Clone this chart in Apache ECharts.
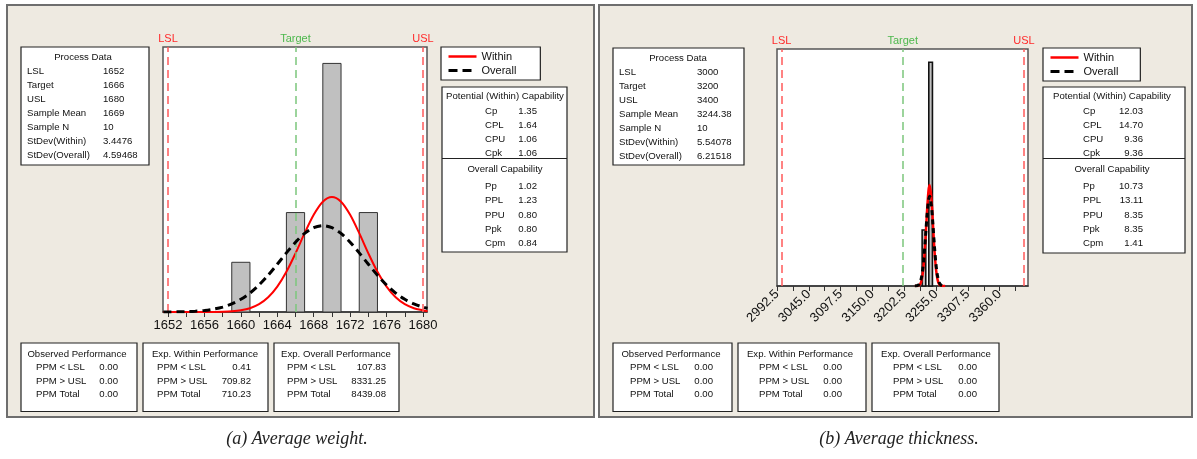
<!DOCTYPE html>
<html><head><meta charset="utf-8">
<script src="https://cdn.jsdelivr.net/npm/echarts@6/dist/echarts.min.js"></script>
<style>html,body{margin:0;padding:0;background:#fff}#c{width:1197px;height:459px}</style>
</head><body><div id="c"></div>
<script>
// ---------- Panel (a): Average weight ----------
const specA = { LSL: 1652, Target: 1666, USL: 1680 };
const binStartA = [1659, 1665, 1669, 1673];
const binEndA   = [1661, 1667, 1671, 1675];
const countsA   = [1, 2, 5, 2];
const curveXA = [1651.5,1652,1653,1654,1655,1656,1657,1658,1659,1660,1661,1662,1663,1664,1665,1666,1667,1668,1669,1670,1671,1672,1673,1674,1675,1676,1677,1678,1679,1680,1680.5];
const withinA = [0,0,0,0,0.0002,0.0006,0.0019,0.0054,0.0143,0.0345,0.0766,0.157,0.295,0.509,0.808,1.180,1.585,1.956,2.219,2.314,2.219,1.956,1.585,1.180,0.808,0.509,0.295,0.157,0.0766,0.0345,0.0143,0.0089];
const overallA = [0.0012,0.0018,0.0040,0.0084,0.0167,0.0317,0.0573,0.0988,0.163,0.255,0.381,0.544,0.740,0.961,1.189,1.403,1.580,1.696,1.737,1.696,1.580,1.403,1.189,0.961,0.740,0.544,0.381,0.255,0.163,0.0988,0.0758];
const tickLabelsA = [1652, 1656, 1660, 1664, 1668, 1672, 1676, 1680];

// ---------- Panel (b): Average thickness ----------
const specB = { LSL: 3000, Target: 3200, USL: 3400 };
const binStartB = [3232, 3243];
const binEndB   = [3238, 3249];
const countsB   = [2, 8];
const curveXB = [3220,3222.5,3225,3227.5,3230,3232.5,3235,3237.5,3240,3242.5,3244.4,3247.5,3250,3252.5,3255,3257.5,3260,3262.5,3265,3267.5,3270];
const withinB = [0.0002,0.0015,0.008,0.035,0.124,0.362,0.861,1.670,2.641,3.408,3.610,3.081,2.159,1.234,0.575,0.219,0.068,0.017,0.0035,0.0006,0.0001];
const overallB = [0.0015,0.0065,0.025,0.080,0.221,0.517,1.028,1.740,2.504,3.066,3.210,2.830,2.133,1.367,0.745,0.346,0.136,0.046,0.013,0.0032,0.0007];
const tickLabelsB = [2992.5, 3045, 3097.5, 3150, 3202.5, 3255, 3307.5, 3360];

// ---------- Tables ----------
const processLabels = ['LSL','Target','USL','Sample Mean','Sample N','StDev(Within)','StDev(Overall)'];
const processA = ['1652','1666','1680','1669','10','3.4476','4.59468'];
const processB = ['3000','3200','3400','3244.38','10','5.54078','6.21518'];
const potLabels = ['Cp','CPL','CPU','Cpk'];
const potA = ['1.35','1.64','1.06','1.06'];
const potB = ['12.03','14.70','9.36','9.36'];
const ovLabels = ['Pp','PPL','PPU','Ppk','Cpm'];
const ovA = ['1.02','1.23','0.80','0.80','0.84'];
const ovB = ['10.73','13.11','8.35','8.35','1.41'];
const perfTitles = ['Observed Performance','Exp. Within Performance','Exp. Overall Performance'];
const perfLabels = ['PPM < LSL','PPM > USL','PPM Total'];
const perfA = [['0.00','0.00','0.00'],['0.41','709.82','710.23'],['107.83','8331.25','8439.08']];
const perfB = [['0.00','0.00','0.00'],['0.00','0.00','0.00'],['0.00','0.00','0.00']];
const captions = ['(a) Average weight.', '(b) Average thickness.'];

const FONT = '"Liberation Sans", Arial, sans-serif';
const BG = '#EEEAE1';

function bars(s, e, c) { return s.map((v, i) => [v, e[i], c[i]]); }
function pts(x, y) { return x.map((v, i) => [v, y[i]]); }

function renderBar(params, api) {
  const p0 = api.coord([api.value(0), api.value(2)]);
  const p1 = api.coord([api.value(1), 0]);
  const b = params.seriesIndex > 3;
  return { type: 'rect', shape: { x: p0[0], y: p0[1], width: p1[0] - p0[0], height: p1[1] - p0[1] },
    style: { fill: '#C0C0C0', stroke: b ? '#111' : '#333', lineWidth: b ? 1.6 : 1 } };
}

function specLines(spec) {
  const red = '#FF5A5A', green = '#7CC67C';
  const mk = (name, col, lcol) => ({ xAxis: spec[name], name: name,
    lineStyle: { color: col, type: [8, 5], width: 1.5 },
    label: { show: true, position: 'end', formatter: name, color: lcol, fontSize: 11, fontFamily: FONT, distance: 3 } });
  return { silent: true, symbol: ['none', 'none'], animation: false,
    data: [mk('LSL', red, '#FF2A2A'), mk('Target', green, '#4DB84D'), mk('USL', red, '#FF2A2A')] };
}

const G = [];
function rect(x, y, w, h, fill, stroke, lw, z) {
  G.push({ type: 'rect', z: z, shape: { x: x, y: y, width: w, height: h }, style: { fill: fill, stroke: stroke, lineWidth: lw } });
}
function line(x1, y1, x2, y2) {
  G.push({ type: 'line', z: 100, shape: { x1: x1, y1: y1, x2: x2, y2: y2 }, style: { stroke: '#222', lineWidth: 1.2 } });
}
function txt(t, x, y, align, opt) {
  opt = opt || {};
  G.push({ type: 'text', z: 101, x: x, y: y, style: { text: t, fill: opt.fill || '#111',
    font: opt.font || ('9.6px ' + FONT), align: align, verticalAlign: 'middle', textAlign: align, textVerticalAlign: 'middle' } });
}

// panels
rect(7, 5, 587, 412, BG, '#6E6E6E', 2, -10);
rect(599, 5, 593, 412, BG, '#6E6E6E', 2, -10);

// process data boxes
function processBox(x, y, w, h, cx, lx, vx, vals) {
  rect(x, y, w, h, '#fff', '#222', 1.2, 99);
  txt('Process Data', cx, y + 10.5, 'center');
  processLabels.forEach((l, i) => { txt(l, lx, y + 24 + i * 14.07, 'left'); txt(vals[i], vx, y + 24 + i * 14.07, 'left'); });
}
processBox(21, 47, 128, 118, 83, 27, 103, processA);
processBox(613, 48, 131, 117, 678, 619, 697, processB);

// capability boxes
function capBox(x, y, w, h, cx, lx, vr, pv, ov) {
  rect(x, y, w, h, '#fff', '#222', 1.2, 99);
  line(x, y + 71.5, x + w, y + 71.5);
  txt('Potential (Within) Capability', cx, y + 9, 'center');
  potLabels.forEach((l, i) => { txt(l, lx, y + 24 + i * 14.1, 'left'); txt(pv[i], vr, y + 24 + i * 14.1, 'right'); });
  txt('Overall Capability', cx, y + 82.5, 'center');
  ovLabels.forEach((l, i) => { txt(l, lx, y + 99.5 + i * 14.3, 'left'); txt(ov[i], vr, y + 99.5 + i * 14.3, 'right'); });
}
capBox(442, 87, 125, 165, 505, 485, 537, potA, ovA);
capBox(1043, 87, 142, 166, 1112, 1083, 1143, potB, ovB);

// performance boxes
function perfBoxes(boxes, vals) {
  boxes.forEach((b, k) => {
    rect(b[0], 343, b[1], 68.5, '#fff', '#222', 1.2, 99);
    txt(perfTitles[k], b[2], 354, 'center');
    perfLabels.forEach((l, i) => { txt(l, b[3], 367.5 + i * 13.5, 'left'); txt(vals[k][i], b[4], 367.5 + i * 13.5, 'right'); });
  });
}
perfBoxes([[21, 116, 77, 36, 118], [143, 125, 205, 157, 251], [274, 125, 336, 287, 386]], perfA);
perfBoxes([[613, 119, 671, 630, 713], [738, 128, 800, 759, 842], [872, 127, 936, 893, 977]], perfB);

// captions
txt(captions[0], 297, 439, 'center', { font: 'italic 18px "Liberation Serif", serif', fill: '#222' });
txt(captions[1], 899, 439, 'center', { font: 'italic 18px "Liberation Serif", serif', fill: '#222' });

const chart = echarts.init(document.getElementById('c'), null, { renderer: 'canvas' });
const legendBase = {
  orient: 'vertical', itemWidth: 28, itemHeight: 12, itemGap: 3,
  backgroundColor: '#fff', borderColor: '#222', borderWidth: 1.2, borderRadius: 0,
  itemStyle: { opacity: 0 },
  textStyle: { fontSize: 11, fontFamily: FONT, color: '#111' }, selectedMode: false, z: 100,
  data: [
    { name: 'Within', itemStyle: { opacity: 0 }, lineStyle: { color: '#FF0000', width: 2.5, type: 'solid' } },
    { name: 'Overall', itemStyle: { opacity: 0 }, lineStyle: { color: '#000', width: 3, type: [9, 5] } }
  ]
};
chart.setOption({
  animation: false,
  backgroundColor: '#fff',
  graphic: { elements: G },
  legend: [
    Object.assign({ left: 441, top: 47, padding: [4, 24, 4, 6] }, legendBase),
    Object.assign({ left: 1043, top: 48, padding: [4, 22, 4, 6] }, legendBase)
  ],
  grid: [
    { left: 163, top: 47, width: 264, height: 265, show: true, backgroundColor: '#fff', borderColor: '#555', borderWidth: 1.5 },
    { left: 168, top: 47, width: 255, height: 265, show: false },
    { left: 777, top: 49, width: 251, height: 237, show: true, backgroundColor: '#fff', borderColor: '#555', borderWidth: 1.5 }
  ],
  xAxis: [
    { gridIndex: 0, type: 'value', min: 1651.45, max: 1680.44, axisLine: { lineStyle: { color: '#333', width: 1.5 } },
      axisTick: { show: false }, axisLabel: { show: false }, splitLine: { show: false } },
    { gridIndex: 1, type: 'value', min: 1652, max: 1680, interval: 2, axisLine: { show: false },
      axisTick: { show: true, length: 5, lineStyle: { color: '#333' } }, splitLine: { show: false },
      axisLabel: { margin: 7, fontSize: 13, color: '#111', fontFamily: FONT,
        formatter: v => tickLabelsA.some(t => Math.abs(t - v) < 1e-6) ? String(v) : '' } },
    { gridIndex: 2, type: 'value', min: 2992.5, max: 3406.7, interval: 26.25,
      axisLine: { lineStyle: { color: '#333', width: 1.5 } },
      axisTick: { show: true, length: 5, lineStyle: { color: '#333' } }, splitLine: { show: false },
      axisLabel: { rotate: 45, margin: 6, fontSize: 13, color: '#111', fontFamily: FONT, showMaxLabel: false,
        formatter: v => tickLabelsB.some(t => Math.abs(t - v) < 1e-6) ? v.toFixed(1) : '' } }
  ],
  yAxis: [
    { gridIndex: 0, type: 'value', min: 0, max: 5.33, show: false },
    { gridIndex: 1, type: 'value', min: 0, max: 1, show: false },
    { gridIndex: 2, type: 'value', min: 0, max: 8.475, show: false }
  ],
  series: [
    { type: 'line', name: 'spec', xAxisIndex: 0, yAxisIndex: 0, data: [[specA.Target, 0]], symbol: 'none',
      lineStyle: { width: 0 }, z: 1, markLine: specLines(specA) },
    { type: 'custom', name: 'histA', xAxisIndex: 0, yAxisIndex: 0, renderItem: renderBar, data: bars(binStartA, binEndA, countsA),
      encode: { x: [0, 1], y: 2 }, z: 3 },
    { type: 'line', name: 'Within', xAxisIndex: 0, yAxisIndex: 0, data: pts(curveXA, withinA), smooth: 0.3, symbol: 'none',
      lineStyle: { color: '#FF0000', width: 2 }, itemStyle: { color: '#FF0000' }, z: 4 },
    { type: 'line', name: 'Overall', xAxisIndex: 0, yAxisIndex: 0, data: pts(curveXA, overallA), smooth: 0.3, symbol: 'none',
      lineStyle: { color: '#000', width: 3, type: [8, 5] }, itemStyle: { color: '#000' }, z: 5 },
    { type: 'line', name: 'specB', xAxisIndex: 2, yAxisIndex: 2, data: [[specB.Target, 0]], symbol: 'none',
      lineStyle: { width: 0 }, z: 1, markLine: specLines(specB) },
    { type: 'custom', name: 'histB', xAxisIndex: 2, yAxisIndex: 2, renderItem: renderBar, data: bars(binStartB, binEndB, countsB),
      encode: { x: [0, 1], y: 2 }, z: 3 },
    { type: 'line', name: 'Within', xAxisIndex: 2, yAxisIndex: 2, data: pts(curveXB, withinB), smooth: 0.3, symbol: 'none',
      lineStyle: { color: '#FF0000', width: 2.5 }, itemStyle: { color: '#FF0000' }, z: 4 },
    { type: 'line', name: 'Overall', xAxisIndex: 2, yAxisIndex: 2, data: pts(curveXB, overallB), smooth: 0.3, symbol: 'none',
      lineStyle: { color: '#000', width: 3, type: [5, 4] }, itemStyle: { color: '#000' }, z: 5 }
  ]
});
</script>
</body></html>
